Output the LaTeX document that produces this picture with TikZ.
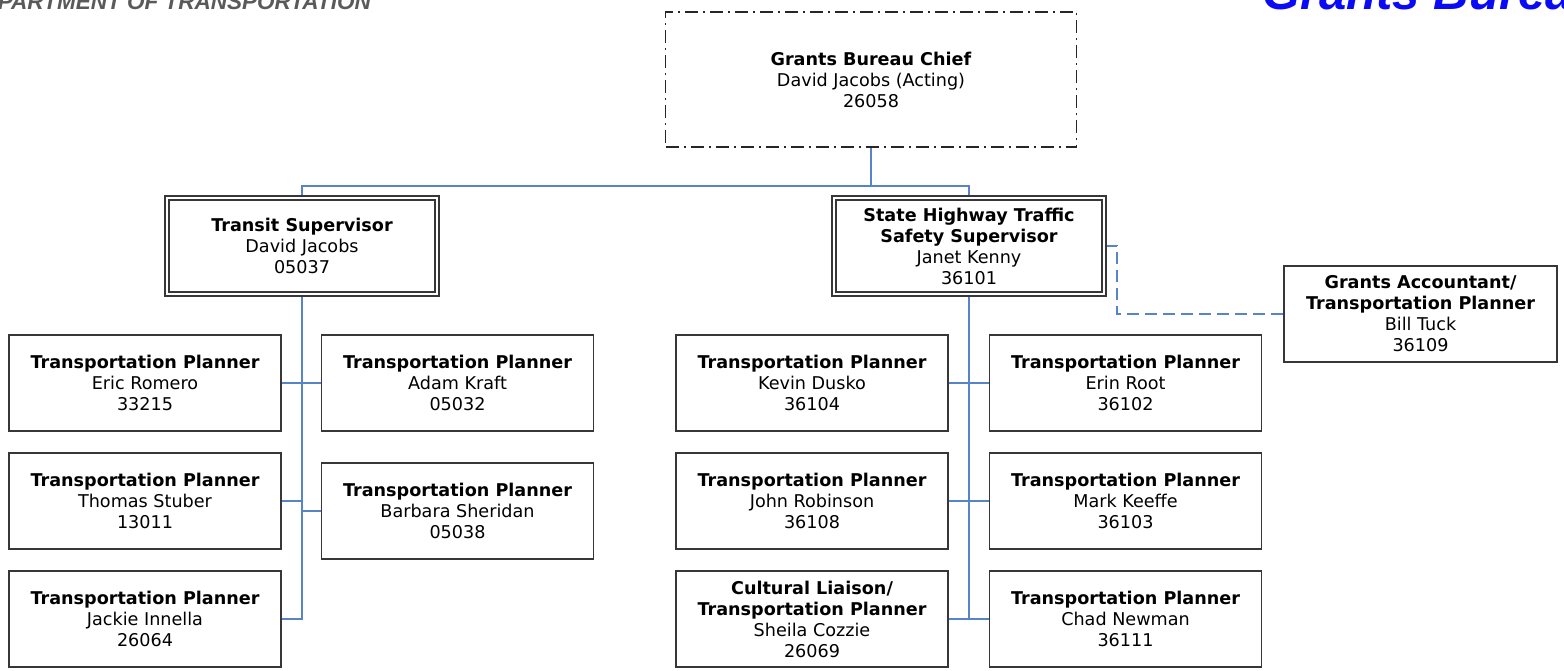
\documentclass[tikz,border=0pt]{standalone}
\usepackage{fontspec}
\setmainfont{DejaVu Sans}
\newfontfamily\headfont{Liberation Sans}
\usetikzlibrary{backgrounds}

\definecolor{boxgray}{RGB}{55,55,55}
\definecolor{linkblue}{RGB}{86,132,198}
\definecolor{headgray}{RGB}{90,90,90}
\definecolor{headblue}{RGB}{10,10,245}

\begin{document}
\begin{tikzpicture}[x=1pt, y=-1pt,
	every node/.style={font=\fontsize{17.6}{21}\selectfont, align=center, inner sep=0pt},
	post/.style={draw=boxgray, fill=white, line width=1.6pt, minimum width=272pt, minimum height=96pt},
	lead/.style={draw=boxgray, fill=white, double=white, double distance=2.5pt, line width=1.5pt, minimum width=270pt, minimum height=96pt},
	head/.style={draw=black!85, fill=white, line width=1.4pt, dash pattern=on 13pt off 5pt on 2pt off 5pt, minimum width=411pt, minimum height=135pt},
	link/.style={draw=linkblue, line width=1.4pt}]

	\useasboundingbox (0,0) rectangle (1564,670);

	\node[anchor=base east, text=headgray, font=\headfont\bfseries\itshape\fontsize{22.5}{26}\selectfont] (dept) at (371,9) {DEPARTMENT OF TRANSPORTATION};
	\node[anchor=base west, text=headblue, font=\headfont\bfseries\itshape\fontsize{49}{54}\selectfont] (bureau) at (1262,9) {Grants Bureau};

	\node[head] (chief) at (871,79.5) {\textbf{Grants Bureau Chief}\\David Jacobs (Acting)\\26058};

	\node[lead] (transit) at (302,246) {\textbf{Transit Supervisor}\\David Jacobs\\05037};
	\node[lead] (shts) at (969,246) {\textbf{State Highway Traffic}\\\textbf{Safety Supervisor}\\Janet Kenny\\36101};
	\node[post, minimum width=273pt, minimum height=95.5pt] (tuck) at (1420.5,314) {\textbf{Grants Accountant/}\\\textbf{Transportation Planner}\\Bill Tuck\\36109};

	\node[post] (romero) at (145,383) {\textbf{Transportation Planner}\\Eric Romero\\33215};
	\node[post] (stuber) at (145,501) {\textbf{Transportation Planner}\\Thomas Stuber\\13011};
	\node[post] (innella) at (145,619) {\textbf{Transportation Planner}\\Jackie Innella\\26064};
	\node[post] (kraft) at (457.5,383) {\textbf{Transportation Planner}\\Adam Kraft\\05032};
	\node[post] (sheridan) at (457.5,511) {\textbf{Transportation Planner}\\Barbara Sheridan\\05038};

	\node[post] (dusko) at (812,383) {\textbf{Transportation Planner}\\Kevin Dusko\\36104};
	\node[post] (robinson) at (812,501) {\textbf{Transportation Planner}\\John Robinson\\36108};
	\node[post] (cozzie) at (812,619) {\textbf{Cultural Liaison/}\\\textbf{Transportation Planner}\\Sheila Cozzie\\26069};
	\node[post] (root) at (1125.5,383) {\textbf{Transportation Planner}\\Erin Root\\36102};
	\node[post] (keeffe) at (1125.5,501) {\textbf{Transportation Planner}\\Mark Keeffe\\36103};
	\node[post] (newman) at (1125.5,619) {\textbf{Transportation Planner}\\Chad Newman\\36111};

	\begin{scope}[on background layer]
		\coordinate (bar) at (871,186);
		\draw[link] (chief.south) -- (bar);
		\draw[link] (transit.north) |- (bar) -| (shts.north);

		\draw[link] (transit.south) -- (transit.south |- innella.east) -- (innella.east);
		\draw[link] (romero.east) -- (kraft.west);
		\draw[link] (stuber.east) -- (stuber.east -| transit.south);
		\draw[link] (sheridan.west) -- (sheridan.west -| transit.south);

		\draw[link] (shts.south) -- (shts.south |- cozzie.east);
		\draw[link] (dusko.east) -- (root.west);
		\draw[link] (robinson.east) -- (keeffe.west);
		\draw[link] (cozzie.east) -- (newman.west);

		\draw[link, line width=1.6pt, dash pattern=on 12pt off 6pt] (shts.east) -- ++(12,0) |- (tuck.west);
	\end{scope}

\end{tikzpicture}
\end{document}
